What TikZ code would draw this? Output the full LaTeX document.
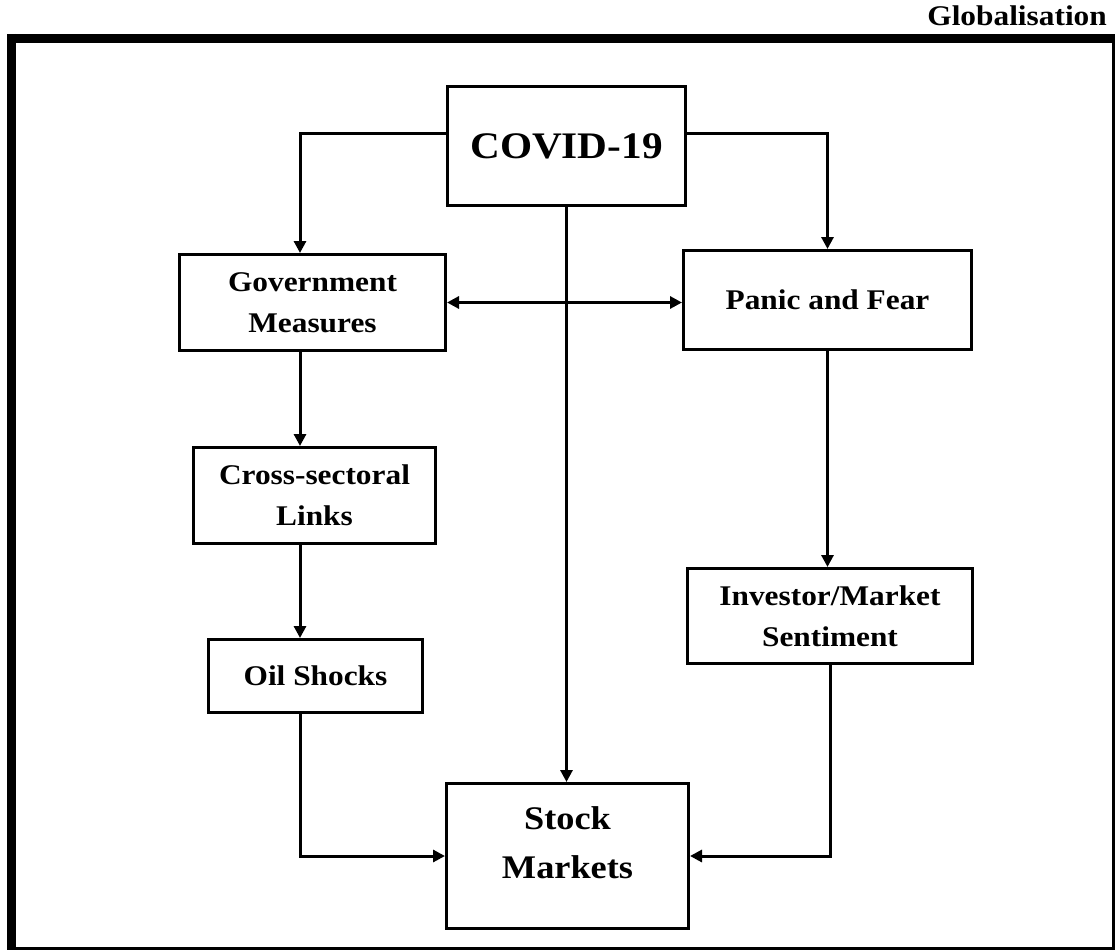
\documentclass[tikz,border=0pt]{standalone}
\usepackage{fontspec}
\setmainfont{Liberation Serif}[FakeStretch=1.1]
\usetikzlibrary{arrows.meta}
\begin{document}
\begin{tikzpicture}[x=1pt,y=-1pt,
  box/.style={draw, line width=3pt, align=center, inner sep=0pt,
    font=\bfseries\fontsize{28.5}{41}\selectfont},
  arr/.style={line width=3pt, -{Triangle[length=12pt,width=12pt]}},
  arrboth/.style={line width=3pt, {Triangle[length=12pt,width=12pt]}-{Triangle[length=12pt,width=12pt]}}]
\useasboundingbox (0,0) rectangle (1116,950);
% outer frame
\draw[line width=3pt] (11.5,38.5) rectangle (1113.5,948.5);
\draw[line width=9pt] (7,38.5) -- (1115,38.5);
\draw[line width=9pt] (11.5,34) -- (11.5,952);
\node[anchor=base east, inner sep=0pt, font=\bfseries\fontsize{28.5}{34}\selectfont] (glob) at (1107,26) {Globalisation};
% boxes
\node[box, minimum width=238pt, minimum height=119pt, font=\bfseries\fontsize{37.5}{45}\selectfont] (covid) at (566.5,146) {COVID-19};
\node[box, minimum width=266pt, minimum height=96pt] (gov) at (312.5,302.5) {Government\\Measures};
\node[box, minimum width=288pt, minimum height=99pt] (panic) at (827.5,300) {Panic and Fear};
\node[box, minimum width=242pt, minimum height=96pt] (cross) at (314.5,495.5) {Cross-sectoral\\Links};
\node[box, minimum width=285pt, minimum height=95pt] (inv) at (830,616) {Investor/Market\\Sentiment};
\node[box, minimum width=214pt, minimum height=73pt] (oil) at (315.5,676) {Oil Shocks};
\node[box, minimum width=242pt, minimum height=145pt, font=\bfseries\fontsize{33}{49}\selectfont] (stock) at (567.5,856) {Stock\\Markets\\[-22pt]\mbox{}};
% helper coordinates
\coordinate (lx) at (300,133);
\coordinate (rx) at (827.5,133);
% connectors
\draw[arr] (covid.west |- lx) -| (gov.north -| lx);
\draw[arr] (covid.east |- rx) -| (panic.north);
\draw[arr] (covid.south) -- (covid.south |- stock.north);
\draw[arrboth] (gov.east) -- (gov.east -| panic.west);
\draw[arr] (gov.south -| lx) -- (cross.north -| lx);
\draw[arr] (cross.south -| lx) -- (oil.north -| lx);
\draw[arr] (oil.south -| lx) |- (stock.west);
\draw[arr] (panic.south) -- (panic.south |- inv.north);
\draw[arr] (inv.south) |- (stock.east);
\end{tikzpicture}
\end{document}
